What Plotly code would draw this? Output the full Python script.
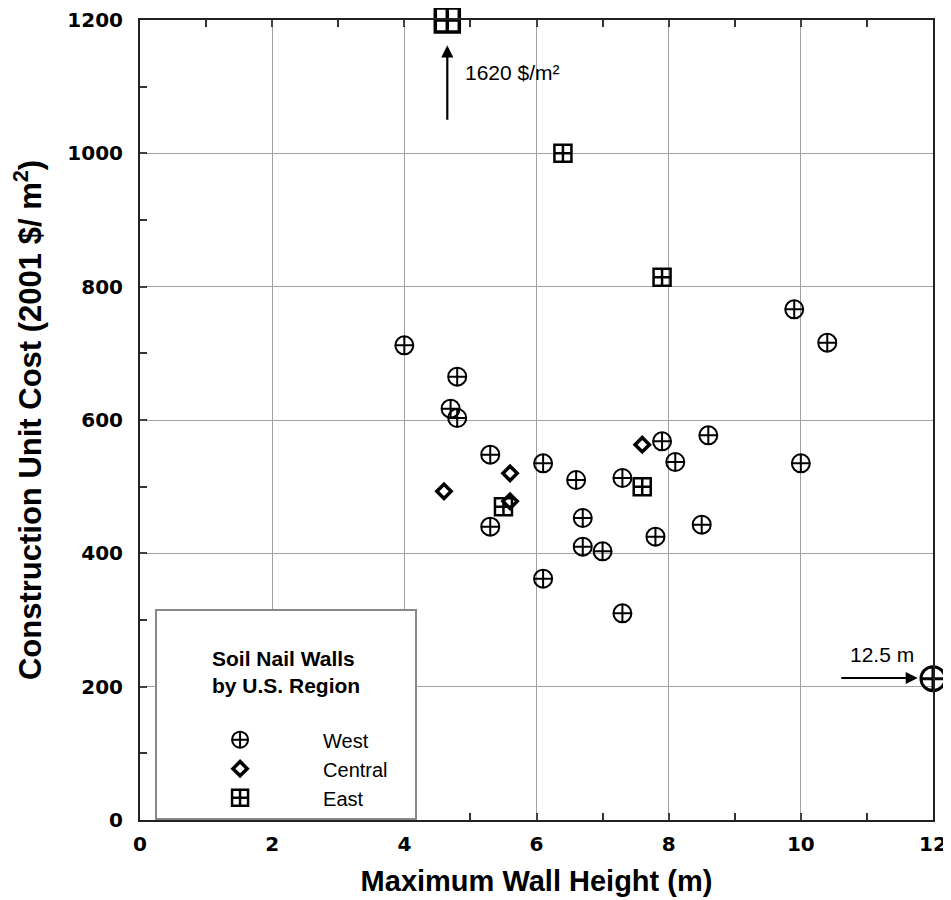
import plotly.graph_objects as go

# ---- data ----
west_x = [4.0, 4.8, 4.7, 4.8, 5.3, 5.3, 6.1, 6.1, 6.6, 6.7, 6.7, 7.0, 7.3, 7.3, 7.8, 7.9, 8.1, 8.6, 8.5, 9.9, 10.4, 10.0]
west_y = [712, 665, 617, 603, 548, 440, 535, 362, 510, 453, 410, 403, 513, 310, 425, 568, 537, 577, 443, 766, 716, 535]
central_x = [4.6, 5.6, 5.6, 7.6]
central_y = [493, 520, 478, 563]
east_x = [6.4, 7.9, 5.5, 7.6]
east_y = [1000, 814, 470, 500]
# off-scale points drawn at the frame edge (actual values 12.5 m and 1620 $/m2)
west_off_x = [12.0]
west_off_y = [212]
east_off_x = [4.65]
east_off_y = [1200]

x_ticks = [0, 2, 4, 6, 8, 10, 12]
y_ticks = [0, 200, 400, 600, 800, 1000, 1200]

TICKFONT = dict(family="DejaVu Sans", size=20, color="black", weight="bold")
XTITLEFONT = dict(family="Liberation Sans", size=29, color="black", weight="bold")
YTITLEFONT = dict(family="Liberation Sans", size=31, color="black", weight="bold")
NOTEFONT = dict(family="Liberation Sans", size=21, color="black")
LEGTITLEFONT = dict(family="Liberation Sans", size=21, color="black")
LEGENDFONT = dict(family="Liberation Sans", size=20, color="black")

PAD = "\u00a0" * 4  # extra room on the right of the legend box

fig = go.Figure()

fig.add_trace(go.Scatter(x=west_x, y=west_y, mode="markers", name="West",
                         legendgroup="w",
                         marker=dict(symbol="circle-cross-open", size=18, color="black",
                                     line=dict(width=2, color="black"))))
fig.add_trace(go.Scatter(x=central_x, y=central_y, mode="markers", name="Central" + PAD,
                         legendgroup="c",
                         marker=dict(symbol="diamond-open", size=11, color="black",
                                     line=dict(width=3.5, color="black"))))
fig.add_trace(go.Scatter(x=east_x, y=east_y, mode="markers", name="East",
                         legendgroup="e",
                         marker=dict(symbol="square-cross-open", size=17, color="black",
                                     line=dict(width=2.5, color="black"))))
fig.add_trace(go.Scatter(x=west_off_x, y=west_off_y, mode="markers", showlegend=False,
                         cliponaxis=False,
                         marker=dict(symbol="circle-cross-open", size=24, color="black",
                                     line=dict(width=3, color="black"))))
fig.add_trace(go.Scatter(x=east_off_x, y=east_off_y, mode="markers", showlegend=False,
                         cliponaxis=False,
                         marker=dict(symbol="square-cross-open", size=24, color="black",
                                     line=dict(width=3.5, color="black"))))

fig.update_layout(
    width=951, height=900,
    margin=dict(l=132, r=26, t=12, b=88, autoexpand=False),
    paper_bgcolor="white", plot_bgcolor="white",
    showlegend=True,
    legend=dict(
        x=0.019, y=0, xanchor="left", yanchor="bottom",
        bgcolor="white", bordercolor="#888888", borderwidth=2,
        title=dict(text="<br><b>Soil Nail Walls<br>by U.S. Region</b><br>", side="top center",
                   font=LEGTITLEFONT),
        font=LEGENDFONT,
        itemwidth=156, tracegroupgap=0,
    ),
    xaxis=dict(
        range=[0, 12], tickvals=x_ticks, ticktext=[str(v) for v in x_ticks],
        showgrid=True, gridcolor="#a0a0a0", gridwidth=1.2,
        showline=True, linecolor="#222222", linewidth=2, mirror="ticks",
        ticks="inside", ticklen=6, tickcolor="#444444", tickwidth=1.5,
        minor=dict(dtick=1, tick0=0, ticks="inside", ticklen=7, tickcolor="#333333",
                   tickwidth=1.5, showgrid=False),
        zeroline=False, tickfont=TICKFONT, ticklabelstandoff=5, automargin=False,
        title=dict(text="Maximum Wall Height (m)", font=XTITLEFONT, standoff=16),
    ),
    yaxis=dict(
        range=[0, 1200], tickvals=y_ticks, ticktext=[str(v) for v in y_ticks],
        showgrid=True, gridcolor="#a0a0a0", gridwidth=1.2,
        showline=True, linecolor="#222222", linewidth=2, mirror=True,
        ticks="inside", ticklen=6, tickcolor="#444444", tickwidth=1.5,
        minor=dict(dtick=100, tick0=0, ticks="inside", ticklen=7, tickcolor="#333333",
                   tickwidth=1.5, showgrid=False),
        zeroline=False, tickfont=TICKFONT, ticklabelstandoff=11, automargin=False,
        title=dict(text="Construction Unit Cost (2001 $/ m<sup>2</sup>)", font=YTITLEFONT, standoff=20),
    ),
    yaxis2=dict(
        overlaying="y", side="right", range=[0, 1200], anchor="x",
        tickmode="linear", tick0=0, dtick=400 / 3,
        ticks="inside", ticklen=13, tickcolor="#333333", tickwidth=1.5,
        minor=dict(dtick=200 / 3, tick0=0, ticks="inside", ticklen=7, tickcolor="#333333", tickwidth=1.5),
        showticklabels=False, showgrid=False, zeroline=False, showline=False, automargin=False,
    ),
    annotations=[
        dict(x=4.65, y=1162, xref="x", yref="y", text="", showarrow=True,
             ax=0, ay=76, arrowhead=2, arrowsize=1.1, arrowwidth=2.2, arrowcolor="black"),
        dict(x=4.89, y=1122, xref="x", yref="y", text="1620 $/m²", showarrow=False,
             xanchor="left", yanchor="middle", font=NOTEFONT),
        dict(x=11.77, y=213, xref="x", yref="y", text="", showarrow=True,
             ax=-78, ay=0, arrowhead=2, arrowsize=1.1, arrowwidth=2.2, arrowcolor="black"),
        dict(x=11.23, y=249, xref="x", yref="y", text="12.5 m", showarrow=False,
             xanchor="center", yanchor="middle", font=NOTEFONT),
    ],
)

fig.write_html("out.html")
